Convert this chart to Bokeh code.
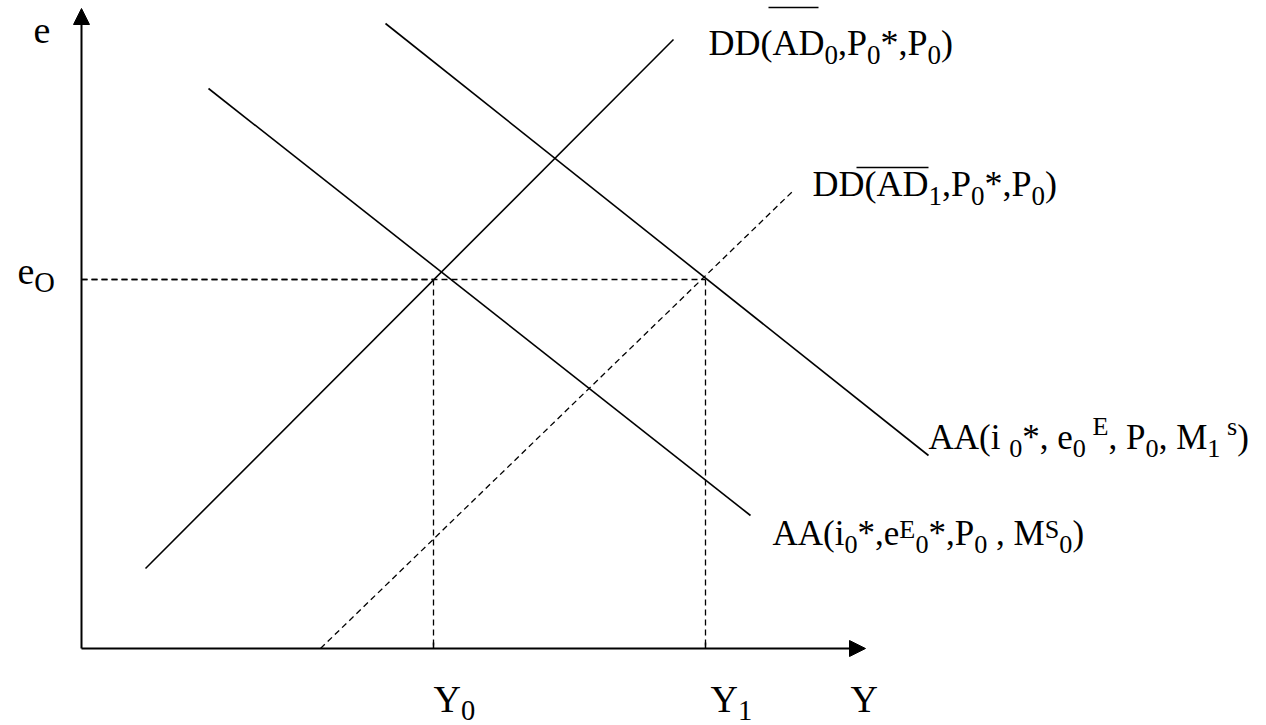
from bokeh.plotting import figure
from bokeh.models import Range1d, Arrow, NormalHead, ColumnDataSource
from bokeh.core.properties import value
from bokeh.embed import file_html
from bokeh.resources import INLINE

# ---------------- data (schematic units, y grows downward) ----------------
origin_x, origin_y = 81, 648
y_axis_top = 8
x_axis_end = 865
e_level = 279                      # e_O
Y_eq = [433, 705]                  # Y0, Y1

# solid curves: DD0, AA0, AA1
solid_names = ["DD0", "AA0", "AA1"]
solid_x0 = [145, 208, 385]
solid_y0 = [568, 88, 23]
solid_x1 = [673, 750, 928]
solid_y1 = [39, 515, 455]
# dashed curve DD1
dd1_x = [320, 793]
dd1_y = [648, 190]

# labels: runs of (text, kind) with kind n / sub / sup
label_runs = [
    [("DD(AD", "n"), ("0", "sub"), (",P", "n"), ("0", "sub"), ("*,P", "n"), ("0", "sub"), (")", "n")],
    [("DD(AD", "n"), ("1", "sub"), (",P", "n"), ("0", "sub"), ("*,P", "n"), ("0", "sub"), (")", "n")],
    [("AA(i ", "n"), ("0", "sub"), ("*, e", "n"), ("0", "sub"), (" E", "sup"), (", P", "n"),
     ("0", "sub"), (", M", "n"), ("1", "sub"), (" s", "sup"), (")", "n")],
    [("AA(i", "n"), ("0", "sub"), ("*,e", "n"), ("E", "sup"), ("0", "sub"), ("*,P", "n"),
     ("0", "sub"), (" , M", "n"), ("S", "sup"), ("0", "sub"), (")", "n")],
    [("e", "n")],
    [("e", "n"), ("O", "sub")],
    [("Y", "n"), ("0", "sub")],
    [("Y", "n"), ("1", "sub")],
    [("Y", "n")],
]
label_x = [708, 812, 928, 772, 33, 17, 433, 710, 850]
label_y = [53, 194, 447, 543, 41, 282, 710, 710, 710]
label_size = [36, 36, 35, 35, 38, 38, 38, 38, 38]
label_sup = [0.33, 0.33, 0.37, 0.17, 0.33, 0.33, 0.33, 0.33, 0.33]
label_drop = [0.25, 0.25, 0.25, 0.25, 0.25, 0.22, 0.22, 0.22, 0.22]
# overlines (label index, start offset, end offset, y)
overlines = [(0, 60, 110, 7), (1, 44, 116, 167)]

# Times / Liberation Serif advance widths (1/1000 em)
ADV = {'A': 722, 'D': 722, 'E': 611, 'M': 889, 'P': 556, 'S': 556, 'Y': 722, 'O': 722,
       '(': 333, ')': 333, '0': 500, '1': 500, ',': 250, '*': 500, 'i': 278, 'e': 444,
       's': 389, ' ': 250}

SUB_SCALE = 0.75
BASELINE_FIX = 0.29   # renderer places alphabetic baseline slightly low; lift by this many em


def layout(runs, x, y, F, sup, drop):
    out = []
    for txt, kind in runs:
        size = F if kind == "n" else F * SUB_SCALE
        if kind == "sub":
            yy = y + drop * F
        elif kind == "sup":
            yy = y - sup * F
        else:
            yy = y
        yy -= BASELINE_FIX * size
        lead = len(txt) - len(txt.lstrip(" "))
        x += lead * ADV[' '] / 1000 * size
        body = txt.lstrip(" ")
        out.append((x, yy, body, f"{size:.1f}px"))
        x += sum(ADV[c] for c in body) / 1000 * size
    return out


tx, ty, tt, ts = [], [], [], []
for runs, x, y, F, sup, drop in zip(label_runs, label_x, label_y, label_size, label_sup, label_drop):
    for a, b, c, d in layout(runs, x, y, F, sup, drop):
        tx.append(a); ty.append(b); tt.append(c); ts.append(d)

# ---------------- figure ----------------
p = figure(width=1266, height=725, x_range=Range1d(0, 1266), y_range=Range1d(725, 0),
           output_backend="svg", toolbar_location=None, min_border=0,
           x_axis_location=None, y_axis_location=None)
p.grid.visible = False
p.outline_line_color = None
p.background_fill_color = "white"
p.border_fill_color = "white"

# axes with arrowheads
p.add_layout(Arrow(end=NormalHead(size=16, fill_color="black", line_color="black", line_width=1),
                   x_start=origin_x, y_start=origin_y, x_end=origin_x, y_end=y_axis_top,
                   line_width=2, line_color="black"))
p.add_layout(Arrow(end=NormalHead(size=16, fill_color="black", line_color="black", line_width=1),
                   x_start=origin_x, y_start=origin_y, x_end=x_axis_end, y_end=origin_y,
                   line_width=2, line_color="black"))

# dashed guides
p.segment(x0=[origin_x, origin_x], y0=[e_level, e_level], x1=Y_eq, y1=[e_level, e_level],
          line_color="black", line_width=1.3, line_dash="6 4")
p.segment(x0=Y_eq, y0=[e_level, e_level], x1=Y_eq, y1=[origin_y, origin_y],
          line_color="black", line_width=1.3, line_dash="6 4")
# small ticks
p.segment(x0=Y_eq, y0=[origin_y - 6] * 2, x1=Y_eq, y1=[origin_y] * 2, line_color="black", line_width=1.5)

# curves
p.segment(x0=solid_x0, y0=solid_y0, x1=solid_x1, y1=solid_y1, line_color="black", line_width=1.6)
p.line(dd1_x, dd1_y, line_color="black", line_width=1.3, line_dash="6 4")

# overlines
ox0 = [label_x[i] + a for i, a, b, yy in overlines]
ox1 = [label_x[i] + b for i, a, b, yy in overlines]
oy = [yy for i, a, b, yy in overlines]
p.segment(x0=ox0, y0=oy, x1=ox1, y1=oy, line_color="black", line_width=1.5)

src = ColumnDataSource(dict(x=tx, y=ty, text=tt, size=ts))
p.text(x="x", y="y", text="text", text_font_size="size", source=src,
       text_font=value("Liberation Serif"), text_baseline="alphabetic", text_align="left",
       text_color="black")

open("out.html", "w").write(file_html(p, INLINE))
